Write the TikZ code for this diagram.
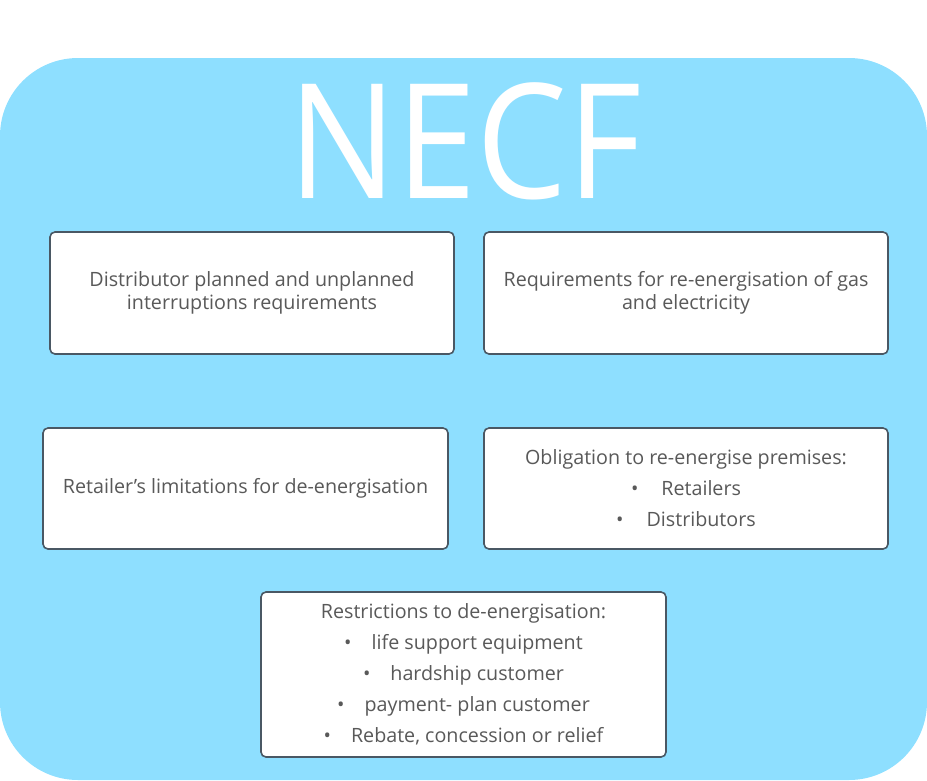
\documentclass[tikz,border=0pt]{standalone}
\usepackage{fontspec}
\setmainfont{Open Sans}
\newfontfamily\titlefont[FakeStretch=0.9]{Open Sans}
\definecolor{bgblue}{HTML}{8EDFFF}
\definecolor{edgegray}{HTML}{4A5864}
\definecolor{txtgray}{HTML}{595959}
\begin{document}
\begin{tikzpicture}[x=1pt,y=-1pt,
  box/.style={draw=edgegray, line width=1.6pt, fill=white, rounded corners=5pt,
    inner sep=0pt, text=txtgray, align=center},
  tight/.style={font=\fontsize{19.7}{23}\selectfont},
  loose/.style={font=\fontsize{19.7}{31}\selectfont}]
\useasboundingbox (0,0) rectangle (927,780);
\fill[bgblue, rounded corners=78pt] (0,58) rectangle (927,780);
\node[text=white, font=\titlefont\fontsize{160}{160}\selectfont, inner sep=0pt] (title) at (465,141) {NECF};
\node[box, tight, minimum width=404pt, minimum height=122pt] (b1) at (252,293)
  {Distributor planned and unplanned\\interruptions requirements};
\node[box, tight, minimum width=404pt, minimum height=122pt] (b2) at (686,293)
  {Requirements for re-energisation of gas\\and electricity};
\node[box, tight, minimum width=405pt, minimum height=121pt] (b3) at (245.5,488.5)
  {Retailer’s limitations for de-energisation};
\node[box, loose, minimum width=404pt, minimum height=121pt] (b4) at (686,488.5)
  {Obligation to re-energise premises:\\
   \textbullet\hspace{23pt}Retailers\\
   \textbullet\hspace{23pt}Distributors};
\node[box, loose, minimum width=405pt, minimum height=165pt] (b5) at (463.5,674.5)
  {Restrictions to de-energisation:\\
   \textbullet\hspace{20pt}life support equipment\\
   \textbullet\hspace{20pt}hardship customer\\
   \textbullet\hspace{20pt}payment- plan customer\\
   \textbullet\hspace{20pt}Rebate, concession or relief};
\end{tikzpicture}
\end{document}
